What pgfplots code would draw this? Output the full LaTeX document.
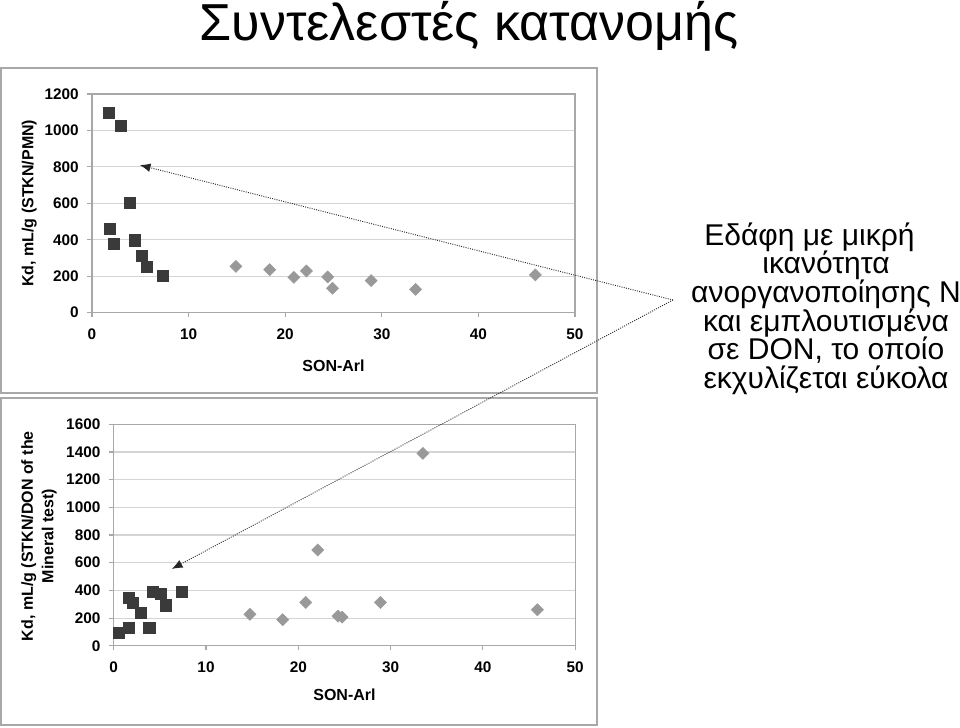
\documentclass[border=0pt]{standalone}
\usepackage{fontspec}
\setmainfont{Liberation Sans}
\usepackage{pgfplots}
\pgfplotsset{compat=1.18}
\usetikzlibrary{arrows.meta}
\definecolor{sqc}{HTML}{3A3A3A}
\definecolor{dic}{HTML}{999999}
\definecolor{frm}{HTML}{A8A8A8}
\definecolor{grd}{HTML}{D4D4D4}
\newcommand{\annfont}{\fontsize{22.5}{21.45}\selectfont\lineskiplimit=-100pt\relax\lineskip=0pt\relax}
\pgfplotsset{kd/.style={
 scale only axis, anchor=south west,
 xmin=0, xmax=50, xtick={0,10,...,50}, ymin=0,
 axis line style={frm, line width=1pt},
 ymajorgrids, grid style={grd, line width=0.8pt},
 tick style={frm, line width=0.8pt}, tick align=outside, major tick length=3.5pt,
 xtick pos=bottom, ytick pos=left,
 /pgf/number format/assume math mode=true,
 /pgf/number format/1000 sep={},
 tick label style={font=\fontsize{11.5}{13}\selectfont\bfseries, black},
 label style={font=\fontsize{12}{15.5}\selectfont\bfseries},
 x tick label style={yshift=-5pt},
 y tick label style={xshift=-3pt},
 clip=false,
}}
\pgfplotsset{sq/.style={only marks, mark=square*, mark size=4.2pt, color=sqc},
 di/.style={only marks, mark=square*, mark size=3.2pt, mark options={rotate=45}, color=dic}}
\begin{document}
\begin{tikzpicture}
\useasboundingbox (0,0) rectangle (720pt,546pt);
\draw[frm, line width=0.8pt] (0.75pt,251.25pt) rectangle (447.75pt,495pt);
\draw[frm, line width=0.8pt] (0.75pt,2.25pt) rectangle (447.75pt,247.5pt);
\begin{axis}[kd, at={(69pt,311.5pt)}, width=362.25pt, height=164pt,
  ymax=1200, ytick={0,200,...,1200},
  xlabel={SON-Arl}, ylabel={Kd, mL/g (STKN/PMN)},
  xlabel style={at={(axis description cs:0.5,0)}, anchor=center, yshift=-39.75pt},
  ylabel style={at={(axis description cs:-0.130,0.5)}, anchor=center}]
\addplot[sq] table {
x y
1.74 1099
3.0 1026
3.88 604
1.86 461
2.26 380
4.43 397
5.19 311
5.66 251
7.36 203
};
\addplot[di] table {
x y
14.9 254
18.4 236
20.9 194
22.2 229
24.4 196
24.9 134
28.9 176
33.5 128
45.9 207
};
\coordinate (t1) at (axis cs:4.95,810);
\end{axis}
\begin{axis}[kd, at={(85.3pt,61.7pt)}, width=346.1pt, height=166.05pt,
  ymax=1600, ytick={0,200,...,1600},
  xlabel={SON-Arl}, ylabel={Kd, mL/g (STKN/DON of the\\Mineral test)},
  xlabel style={at={(axis description cs:0.5,0)}, anchor=center, yshift=-37pt},
  ylabel style={at={(axis description cs:-0.162,0.495)}, anchor=center, align=center}]
\addplot[sq] table {
x y
0.58 94
1.66 130
1.62 349
2.07 313
2.94 241
3.86 130
4.27 390
5.10 373
5.60 292
7.34 390
};
\addplot[di] table {
x y
14.76 227
18.3 188
20.8 313
22.1 692
24.3 214
24.75 207
28.9 313
33.5 1390
45.9 260
};
\coordinate (t2) at (axis cs:6.3,555);
\end{axis}
\coordinate (apex) at (504.75pt,321pt);
\draw[densely dotted, line width=0.7pt, black!85, -{Latex[length=8pt,width=6.5pt]}] (apex) -- (t1);
\draw[densely dotted, line width=0.7pt, black!85, -{Latex[length=8pt,width=6.5pt]}] (apex) -- (t2);
\node[font=\fontsize{39}{42}\selectfont] at (351.75pt,526pt) {Συντελεστές κατανομής};
\node[font=\annfont, align=center] at (619.5pt,314.6pt)
 {Εδάφη με μικρή\hspace*{1.1em}\\ικανότητα\\ανοργανοποίησης Ν\\και εμπλουτισμένα\\σε DON, το οποίο\\εκχυλίζεται εύκολα};
\end{tikzpicture}
\end{document}
